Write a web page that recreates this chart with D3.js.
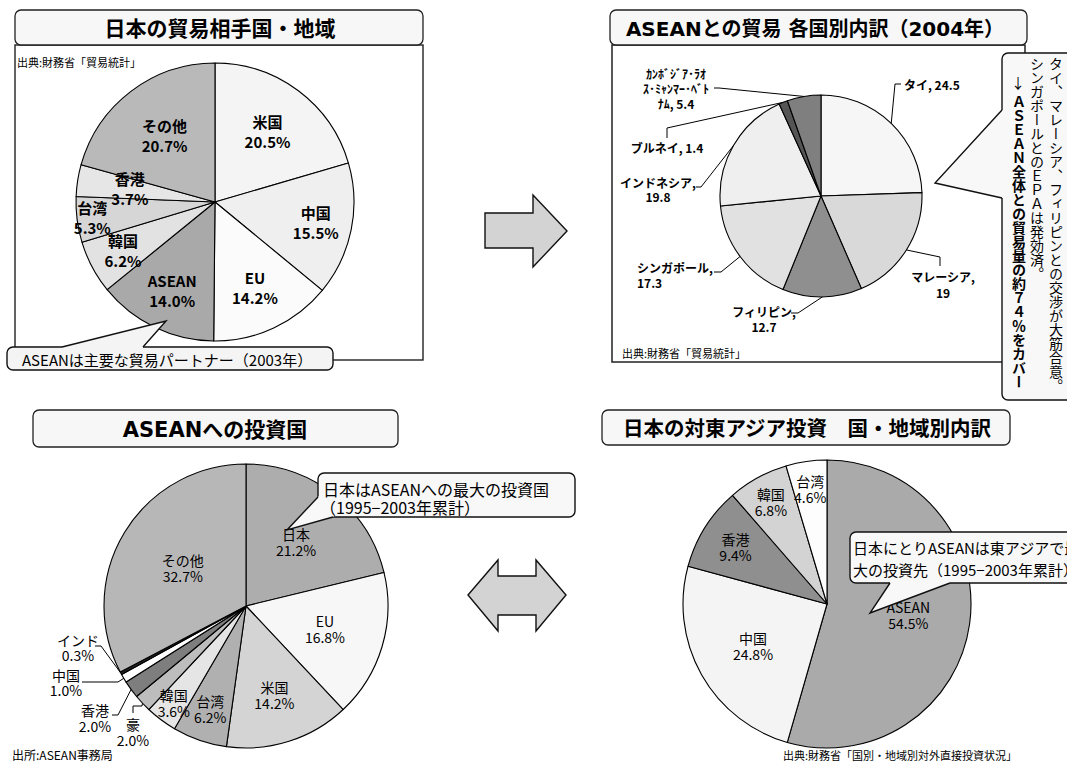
<!DOCTYPE html>
<html><head><meta charset="utf-8">
<script src="https://cdn.jsdelivr.net/npm/d3@7"></script>
<style>
html,body{margin:0;padding:0;background:#fff;}
svg{display:block;}
</style></head><body>
<script>
// ---------------- data ----------------
const tradeCategories = ["米国","中国","EU","ASEAN","韓国","台湾","香港","その他"];
const tradeShares     = [20.5, 15.5, 14.2, 14.0, 6.2, 5.3, 3.7, 20.7];

const aseanCountries  = ["タイ","マレーシア","フィリピン","シンガポール","インドネシア","ブルネイ","ｶﾝﾎﾞｼﾞｱ･ﾗｵｽ･ﾐｬﾝﾏｰ･ﾍﾞﾄﾅﾑ"];
const aseanShares     = [24.5, 19, 12.7, 17.3, 19.8, 1.4, 5.4];

const investorCategories = ["日本","EU","米国","台湾","韓国","豪","香港","中国","インド","その他"];
const investorShares     = [21.2, 16.8, 14.2, 6.2, 3.6, 2.0, 2.0, 1.0, 0.3, 32.7];

const eastAsiaCategories = ["ASEAN","中国","香港","韓国","台湾"];
const eastAsiaShares     = [54.5, 24.8, 9.4, 6.8, 4.6];

// ---------------- styles ----------------
const tradeColors    = ["#f4f4f4","#efefef","#fbfbfb","#a9a9a9","#e2e2e2","#d6d6d6","#e6e6e6","#b9b9b9"];
const aseanColors    = ["#f6f6f6","#d9d9d9","#8f8f8f","#e1e1e1","#efefef","#555555","#7f7f7f"];
const investorColors = ["#adadad","#f7f7f7","#d4d4d4","#b0b0b0","#e5e5e5","#bdbdbd","#7e7e7e","#ffffff","#222222","#b7b7b7"];
const eastAsiaColors = ["#aaaaaa","#f4f4f4","#8f8f8f","#d3d3d3","#fdfdfd"];

const CJK = '"Noto Sans CJK JP","Noto Sans",sans-serif';
const TITLE = '"DejaVu Sans","Noto Sans CJK JP",sans-serif';

const W = 1067, H = 763;
const svg = d3.select("body").append("svg").attr("width", W).attr("height", H);
const pie = d3.pie().sort(null).value(d => d);
const pct = v => d3.format(".1f")(v) + "%";

function txt(g, x, y, s, o = {}) {
  return g.append("text").attr("x", x).attr("y", y)
    .attr("dominant-baseline", "central")
    .attr("text-anchor", o.anchor || "start")
    .style("font-family", o.family || CJK)
    .style("font-size", (o.size || 12) + "px")
    .style("font-weight", o.weight || 400)
    .style("fill", "#000")
    .text(s);
}
function titleBox(x, y, w, h, label, tx, size) {
  svg.append("rect").attr("x", x).attr("y", y).attr("width", w).attr("height", h)
    .attr("rx", 6).attr("fill", "#f7f7f7").attr("stroke", "#222").attr("stroke-width", 1.3);
  txt(svg, tx, y + h / 2 + 1, label, {anchor: "middle", size, weight: 700, family: TITLE});
}
function callout(x, y, w, h, b1, tip, b2, inward, fill) {
  svg.append("rect").attr("x", x).attr("y", y).attr("width", w).attr("height", h)
    .attr("rx", 6).attr("fill", fill).attr("stroke", "#111").attr("stroke-width", 1.4);
  const i1 = [b1[0] + inward[0], b1[1] + inward[1]], i2 = [b2[0] + inward[0], b2[1] + inward[1]];
  svg.append("path").attr("d", d3.line()([b1, tip, b2, i2, i1]) + "Z").attr("fill", fill).attr("stroke", "none");
  svg.append("path").attr("d", d3.line()([b1, tip, b2])).attr("fill", "none")
    .attr("stroke", "#111").attr("stroke-width", 1.4).attr("stroke-linejoin", "miter");
}
function drawPie(cx, cy, r, values, colors) {
  const g = svg.append("g").attr("transform", `translate(${cx},${cy})`);
  const arcs = pie(values);
  g.selectAll("path").data(arcs).join("path")
    .attr("d", d3.arc().innerRadius(0).outerRadius(r))
    .attr("fill", (d, i) => colors[i])
    .attr("stroke", "#000").attr("stroke-width", 1.1).attr("stroke-linejoin", "round");
  return {g, arcs};
}
function innerLabels(pieObj, r, factors, linesFn, o) {
  pieObj.arcs.forEach((d, i) => {
    if (factors[i] == null) return;
    const [x, y] = d3.arc().innerRadius(r * factors[i]).outerRadius(r * factors[i]).centroid(d);
    const lines = linesFn(i);
    const off = (lines.length - 1) * o.gap / 2;
    lines.forEach((s, k) => txt(pieObj.g, x, y - off + k * o.gap, s, {anchor: "middle", size: o.size, weight: o.weight}));
  });
}
function edgePoint(d, cx, cy, r) {
  const [x, y] = d3.arc().innerRadius(r).outerRadius(r).centroid(d);
  return [cx + x, cy + y];
}

// ================= Panel 1: 日本の貿易相手国・地域 =================
svg.append("rect").attr("x", 15).attr("y", 45).attr("width", 408).attr("height", 315)
  .attr("fill", "#fff").attr("stroke", "#222").attr("stroke-width", 1.4);
titleBox(15, 10, 408, 35, "日本の貿易相手国・地域", 220, 21);
txt(svg, 17, 62, "出典:財務省「貿易統計」", {size: 11});
const p1 = {cx: 215, cy: 202, r: 139};
const pie1 = drawPie(p1.cx, p1.cy, p1.r, tradeShares, tradeColors);
innerLabels(pie1, p1.r, [0.63, 0.74, 0.68, 0.71, 0.75, 0.89, 0.62, 0.6],
  i => [tradeCategories[i], pct(tradeShares[i])], {size: 15, weight: 700, gap: 20});
callout(7, 347, 326, 23, [62, 347], [166, 321], [143, 347], [0, 3], "#f4f4f4");
txt(svg, 22, 359, "ASEANは主要な貿易パートナー（2003年）", {size: 15});

// ================= arrows =================
svg.append("path").attr("d", d3.line()([[485,213],[533,213],[533,195],[567,231],[533,267],[533,248],[485,248]]) + "Z")
  .attr("fill", "#d3d3d3").attr("stroke", "#111").attr("stroke-width", 1.4);
svg.append("path").attr("d", d3.line()([[468,595],[498,560],[498,576],[536,576],[536,560],[566,595],[536,631],[536,615],[498,615],[498,631]]) + "Z")
  .attr("fill", "#d3d3d3").attr("stroke", "#111").attr("stroke-width", 1.4);

// ================= Panel 2: ASEANとの貿易 各国別内訳 =================
svg.append("rect").attr("x", 612).attr("y", 45).attr("width", 413).attr("height", 317)
  .attr("fill", "#fff").attr("stroke", "#222").attr("stroke-width", 1.5);
titleBox(610, 10, 417, 35, "ASEANとの貿易 各国別内訳（2004年）", 815, 20);
txt(svg, 622, 353, "出典:財務省「貿易統計」", {size: 11});
const p2 = {cx: 821, cy: 196, r: 101};
const pie2 = drawPie(p2.cx, p2.cy, p2.r, aseanShares, aseanColors);
const aseanOutside = [
  {x: 904, ys: [84], anchor: "start", lines: (c, v) => [`${c}, ${v}`], leader: [[895, 84], [901, 84]]},
  {x: 943, ys: [276, 292], anchor: "middle", lines: (c, v) => [`${c},`, `${v}`], leader: [[940, 257], [940, 266]]},
  {x: 764, ys: [311, 326], anchor: "middle", lines: (c, v) => [`${c},`, `${v}`], leader: [[798, 313], [791, 313]]},
  {x: 637, ys: [267, 282], anchor: "start", lines: (c, v) => [`${c},`, `${v}`], leader: [[721, 272], [714, 272]]},
  {x: 658, ys: [182, 196], anchor: "middle", lines: (c, v) => [`${c},`, `${v}`], leader: [[701, 187], [696, 187]]},
  {x: 667, ys: [147], anchor: "middle", lines: (c, v) => [`${c}, ${v}`], leader: [[667, 128], [667, 138]]},
  {x: 676, ys: [73, 88, 103], anchor: "middle", lines: (c, v) => [c.slice(0, 10), c.slice(10, 21), `${c.slice(21)}, ${v}`], leader: [[719, 88], [714, 88]]}
];
pie2.arcs.forEach((d, i) => {
  const L = aseanOutside[i];
  svg.append("path").attr("d", d3.line()([edgePoint(d, p2.cx, p2.cy, p2.r), ...L.leader]))
    .attr("fill", "none").attr("stroke", "#000").attr("stroke-width", 1);
  L.lines(aseanCountries[i], aseanShares[i]).forEach((s, k) =>
    txt(svg, L.x, L.ys[k], s, {anchor: L.anchor, size: 12, weight: 700}));
});
// vertical callout
callout(1002, 53, 90, 347, [1002, 110], [935, 183], [1002, 198], [3, 0], "#f8f8f8");
function vtext(x, y, s, size, weight) {
  svg.append("text").attr("x", x).attr("y", y)
    .style("writing-mode", "vertical-rl").style("text-orientation", "upright")
    .style("font-family", CJK).style("font-size", size + "px").style("font-weight", weight)
    .style("fill", "#000").text(s);
}
vtext(1056, 57, "タイ、マレーシア、フィリピンとの交渉が大筋合意。", 14, 400);
vtext(1037, 57, "シンガポールとのＥＰＡは発効済。", 14, 400);
vtext(1018, 76, "↓", 14, 400);
vtext(1019, 95, "ＡＳＥＡＮ全体との貿易量の約７４％をカバー", 14, 700);

// ================= Panel 3: ASEANへの投資国 =================
titleBox(33, 410, 365, 37, "ASEANへの投資国", 215, 21);
const p3 = {cx: 246, cy: 606, r: 142};
const pie3 = drawPie(p3.cx, p3.cy, p3.r, investorShares, investorColors);
innerLabels(pie3, p3.r, [0.57, 0.58, 0.66, 0.77, 0.85, null, null, null, null, 0.52],
  i => [investorCategories[i], pct(investorShares[i])], {size: 14, weight: 400, gap: 16});
const investOutside = {
  5: {x: 133, ys: [724, 740], leader: [[142, 706], [133, 706], [133, 713]]},
  6: {x: 95, ys: [710, 726], leader: [[118, 715], [112, 715]]},
  7: {x: 66, ys: [675, 690], leader: [[118, 682], [82, 682]]},
  8: {x: 78, ys: [640, 655], leader: [[101, 646], [95, 646]]}
};
pie3.arcs.forEach((d, i) => {
  const L = investOutside[i];
  if (!L) return;
  svg.append("path").attr("d", d3.line()([edgePoint(d, p3.cx, p3.cy, p3.r), ...L.leader]))
    .attr("fill", "none").attr("stroke", "#000").attr("stroke-width", 1);
  [investorCategories[i], pct(investorShares[i])].forEach((s, k) =>
    txt(svg, L.x, L.ys[k], s, {anchor: "middle", size: 14}));
});
callout(318, 473, 257, 44, [318, 497], [287, 530], [333, 517], [3, -3], "#f8f8f8");
txt(svg, 323, 489, "日本はASEANへの最大の投資国", {size: 16});
txt(svg, 320, 507, "（1995−2003年累計）", {size: 16});
txt(svg, 12, 754, "出所:ASEAN事務局", {size: 12});

// ================= Panel 4: 日本の対東アジア投資 =================
titleBox(602, 410, 408, 35, "日本の対東アジア投資　国・地域別内訳", 807, 20.5);
const p4 = {cx: 827, cy: 604, r: 144};
const pie4 = drawPie(p4.cx, p4.cy, p4.r, eastAsiaShares, eastAsiaColors);
innerLabels(pie4, p4.r, [0.57, 0.59, 0.75, 0.81, 0.81],
  i => [eastAsiaCategories[i], pct(eastAsiaShares[i])], {size: 14, weight: 400, gap: 16});
callout(850, 532, 240, 51, [890, 583], [870, 613], [950, 583], [0, -3], "#f8f8f8");
txt(svg, 853, 547, "日本にとりASEANは東アジアで最", {size: 15});
txt(svg, 853, 569, "大の投資先（1995−2003年累計）", {size: 15});
txt(svg, 783, 755, "出典:財務省「国別・地域別対外直接投資状況」", {size: 11});
</script>
</body></html>
